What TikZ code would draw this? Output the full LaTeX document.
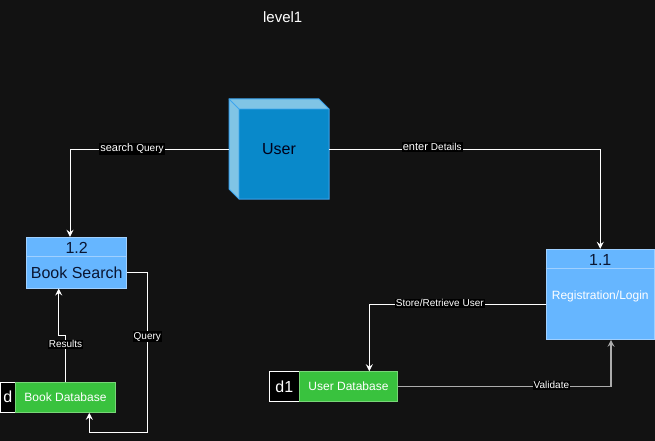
\documentclass[tikz,border=0pt]{standalone}
\usepackage{fontspec}
\setmainfont{Liberation Sans}
\usetikzlibrary{arrows.meta,calc}
\definecolor{bg}{RGB}{18,18,18}
\definecolor{procfill}{RGB}{102,182,255}
\definecolor{procline}{RGB}{160,208,255}
\definecolor{storefill}{RGB}{57,194,62}
\definecolor{storeline}{RGB}{120,214,120}
\definecolor{cubefront}{RGB}{9,137,202}
\definecolor{cubeside}{RGB}{128,196,229}
\definecolor{cubeline}{RGB}{60,165,240}
\definecolor{navy}{RGB}{10,22,50}
\newcommand\fsz[1]{\fontsize{#1}{#1}\selectfont}
\tikzset{
  proc/.style={draw=procline, fill=procfill, line width=1pt, inner sep=0pt},
  store/.style={draw=storeline, fill=storefill, line width=1pt, inner sep=0pt, text=white, font=\fsz{12}},
  tagbox/.style={draw=white, fill=black, line width=1pt, inner sep=0pt, text=white, font=\fsz{16}},
  flow/.style={draw=white, line width=1pt, -{Stealth[length=7pt,width=7pt,inset=2.5pt]}},
  flowgray/.style={draw=gray!65!white, line width=1.5pt, -{Stealth[length=7pt,width=7pt,inset=2.5pt]}},
  lbl/.style={fill=black, text=white, inner sep=1pt, font=\fsz{10}},
}
\begin{document}
\begin{tikzpicture}[x=1pt,y=-1pt]
\fill[bg] (0,0) rectangle (655,441);
\useasboundingbox (0,0) rectangle (655,441);

% title
\node[text=white, font=\fsz{15}] (title) at (282.7,16.7) {level1};

% user cube
\fill[cubeside] (229,99) -- (319,99) -- (329,109) -- (239,109) -- cycle;
\fill[cubeside] (229,99) -- (239,109) -- (239,199) -- (229,189) -- cycle;
\fill[cubefront] (239,109) rectangle (329,199);
\draw[cubeline, line width=1pt] (229,99) -- (319,99) -- (329,109) -- (329,199) -- (239,199) -- (229,189) -- cycle;
\draw[cubeline, line width=0.8pt] (229,99) -- (239,109) -- (329,109) (239,109) -- (239,199);
\node[minimum width=100pt, minimum height=100pt, inner sep=0pt, text=black!90!blue, font=\fsz{16}] (user) at (279,149) {User};

% process 1.2
\node[proc, minimum width=100pt, minimum height=50.7pt] (bs) at (76.7,262.65) {};
\draw[procline, line width=1pt] ([yshift=-20pt]bs.north west) -- ([yshift=-20pt]bs.north east);
\node[text=navy, font=\fsz{16}] (bsid) at (76.7,247.8) {1.2};
\node[text=navy, font=\fsz{16}] (bsname) at (76.7,272.7) {Book Search};

% process 1.1
\node[proc, minimum width=108.5pt, minimum height=90pt] (reg) at (600.25,294.3) {};
\draw[procline, line width=1pt] ([yshift=-20pt]reg.north west) -- ([yshift=-20pt]reg.north east);
\node[text=navy, font=\fsz{16}] (regid) at (600.25,259.6) {1.1};
\node[text=white, font=\fsz{12}] (regname) at (600.25,296) {Registration/Login};

% stores
\node[tagbox, minimum width=14.8pt, minimum height=30.3pt] (bdbid) at (7.9,397.2) {d};
\node[store, minimum width=100.4pt, minimum height=30.3pt] (bdb) at (65.5,397.2) {Book Database};
\node[tagbox, minimum width=30pt, minimum height=30pt] (udbid) at (284.3,386.7) {d1};
\node[store, minimum width=98.4pt, minimum height=30pt] (udb) at (348.5,386.7) {User Database};

% flows
\draw[flow] (user.west) -| node[lbl, pos=0.305]{\fsz{11}search \fsz{10}Query} ([xshift=-6.7pt]bs.north);
\draw[flow] (user.east) -| node[lbl, pos=0.19, yshift=2pt]{\fsz{11}enter \fsz{10}Details} (reg.north);
\draw[flow] ([yshift=-10.4pt]reg.west) -| node[lbl, pos=0.3, yshift=1.5pt]{Store/Retrieve User} ([xshift=20.8pt]udb.north);
\draw[flowgray] (udb.east) -| node[lbl, pos=0.36, yshift=1.5pt]{Validate} ([xshift=10.75pt]reg.south);

\coordinate (r1) at (65.5,335);
\coordinate (r2) at (58.7,335);
\draw[flow] (bdb.north) -- node[lbl, pos=0.8]{Results} (r1) -- (r2) -- (r2 |- bs.south);

\coordinate (q1) at (147.3,432.3);
\draw[flow] ([yshift=-10.2pt]bs.east) -| node[lbl, pos=0.70]{Query} (q1) -| ([xshift=23.8pt]bdb.south);
\end{tikzpicture}
\end{document}
